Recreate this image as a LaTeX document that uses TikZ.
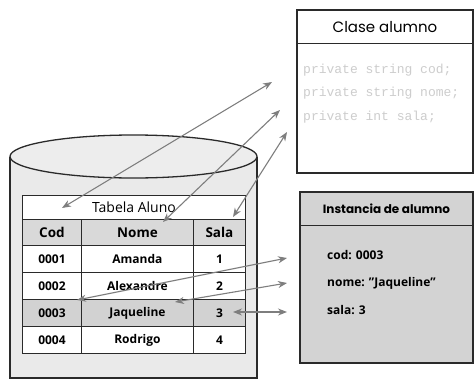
\documentclass[tikz,border=0pt]{standalone}
\usepackage{fontspec}
\setmainfont{Open Sans}
\newfontfamily\geofont{Poppins}
\newfontfamily\codefont{Liberation Mono}
\usetikzlibrary{arrows.meta}
\definecolor{edge}{HTML}{2A2A2A}
\definecolor{drum}{HTML}{EAEAEA}
\definecolor{headgray}{HTML}{D9D9D9}
\definecolor{rowgray}{HTML}{D2D2D2}
\definecolor{boxgray}{HTML}{D3D3D3}
\definecolor{linkgray}{HTML}{7E7E7E}
\definecolor{codegray}{HTML}{CDCDCD}
\begin{document}
\begin{tikzpicture}[x=1pt,y=-1pt,
  cell/.style={draw=edge, line width=0.9pt, anchor=north west, inner sep=0pt,
    minimum height=27pt, fill=white, font=\fontsize{12}{14}\selectfont\bfseries},
  headcell/.style={cell, minimum height=26pt, fill=headgray, font=\fontsize{13.5}{15}\selectfont\bfseries},
  c1/.style={minimum width=59pt},
  c2/.style={minimum width=112pt},
  c3/.style={minimum width=52pt},
  classbox/.style={draw=edge, line width=1.3pt, fill=white},
  instbox/.style={draw=edge, line width=1.5pt, fill=boxgray},
  codeline/.style={anchor=west, inner sep=0pt, text=codegray, font=\codefont\fontsize{13}{15}\selectfont},
  fieldline/.style={anchor=west, inner sep=0pt, font=\fontsize{12}{14}\selectfont\bfseries},
  link/.style={draw=linkgray, line width=1.1pt,
    {Stealth[length=9pt,width=7pt]}-{Stealth[length=9pt,width=7pt]}}]

\useasboundingbox (0,0) rectangle (476,380);

% database drum
\fill[drum] (10,156.5) -- (10,378) -- (257,378) -- (257,156.5) arc[start angle=0,end angle=-180,x radius=123.5,y radius=21.5] -- cycle;
\draw[edge, line width=1.3pt] (10,156.5) -- (10,378) -- (257,378) -- (257,156.5);
\draw[edge, line width=1.3pt, fill=drum!85!white] (133.5,156.5) ellipse[x radius=123.5, y radius=21.5];

% table
\node[cell, minimum width=223pt, minimum height=24pt, font=\fontsize{14}{16}\selectfont] (ttl) at (22,195) {Tabela Aluno};
\node[headcell, c1] (hcod) at (22,219) {Cod};
\node[headcell, c2] (hnom) at (81,219) {Nome};
\node[headcell, c3] (hsal) at (193,219) {Sala};

\node[cell, c1] (a1) at (22,245) {0001};
\node[cell, c2] (b1) at (81,245) {Amanda};
\node[cell, c3] (s1) at (193,245) {1};
\node[cell, c1] (a2) at (22,272) {0002};
\node[cell, c2] (b2) at (81,272) {Alexandre};
\node[cell, c3] (s2) at (193,272) {2};
\node[cell, c1, fill=rowgray] (a3) at (22,299) {0003};
\node[cell, c2, fill=rowgray] (b3) at (81,299) {Jaqueline};
\node[cell, c3, fill=rowgray] (s3) at (193,299) {3};
\node[cell, c1] (a4) at (22,326) {0004};
\node[cell, c2] (b4) at (81,326) {Rodrigo};
\node[cell, c3] (s4) at (193,326) {4};

% class box
\draw[classbox] (297,10) rectangle (473,173);
\draw[edge, line width=1pt] (297,43) -- (473,43);
\node[font=\geofont\fontsize{15}{17}\selectfont] (ctitle) at (385,27) {Clase alumno};
\node[codeline] (fcod) at (303,70) {private string cod;};
\node[codeline] (fnom) at (303,93) {private string nome;};
\node[codeline] (fsal) at (303,117) {private int sala;};

% instance box
\draw[instbox] (300,192) rectangle (473,363);
\draw[edge, line width=1pt] (300,225) -- (473,225);
\node[font=\geofont\bfseries\fontsize{12}{14}\selectfont] (ititle) at (386.5,209) {Instancia de alumno};
\node[fieldline] (vcod) at (327,255) {cod: 0003};
\node[fieldline] (vnom) at (327,283) {nome: "Jaqueline"};
\node[fieldline] (vsal) at (327,310) {sala: 3};

% connector ends
\coordinate (pT) at (62,208);
\coordinate (pN) at (163,222);
\coordinate (pS) at (233,217);
\coordinate (qC) at (272,82);
\coordinate (qN) at (280,110);
\coordinate (qS) at (287,132);
\coordinate (rA) at (77,300);
\coordinate (rB) at (175,302);
\coordinate (rC) at (233,312);
\coordinate (uC) at (287,258);
\coordinate (uN) at (287,283);
\coordinate (uS) at (287,312);

\draw[link] (pT) -- (qC);
\draw[link] (pN) -- (qN);
\draw[link] (pS) -- (qS);
\draw[link] (rA) -- (uC);
\draw[link] (rB) -- (uN);
\draw[link] (rC) -- (uS);
\end{tikzpicture}
\end{document}
